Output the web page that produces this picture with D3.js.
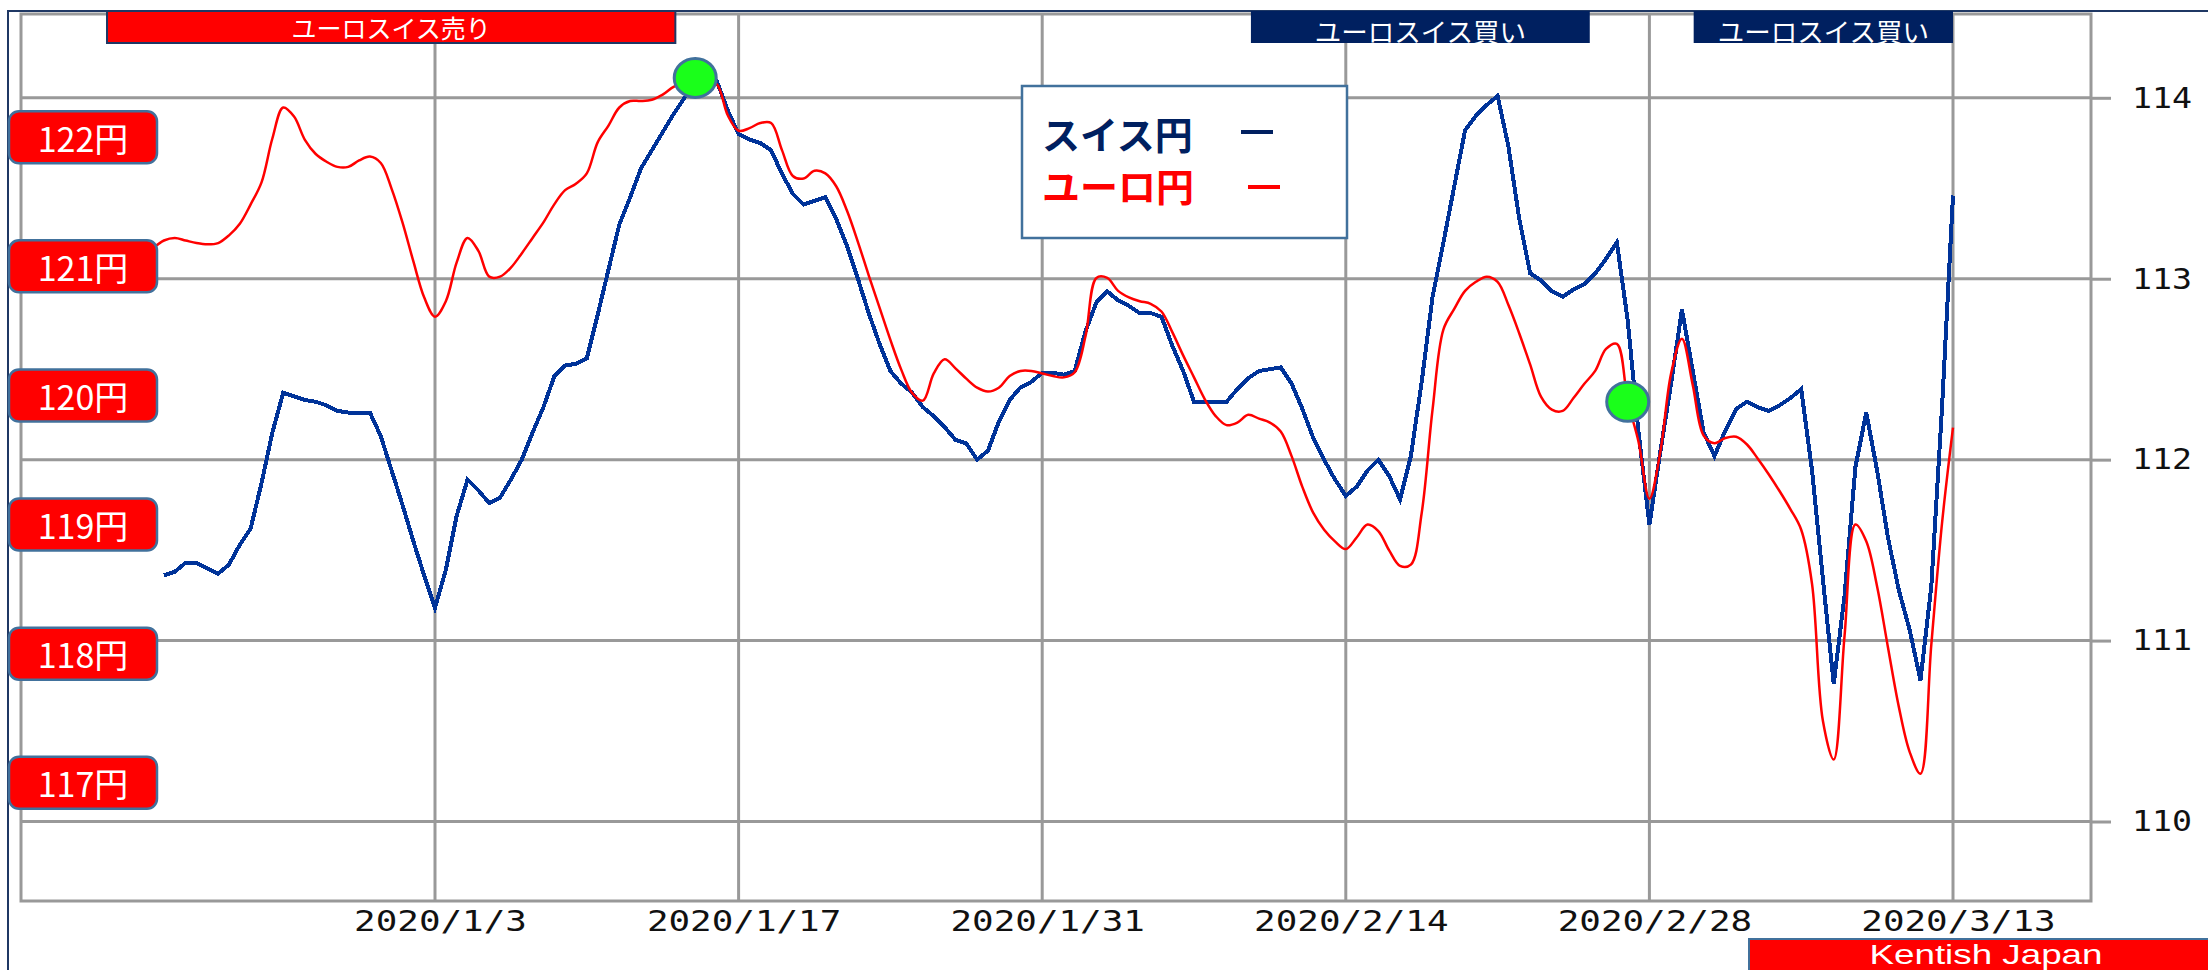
<!DOCTYPE html>
<html>
<head>
<meta charset="utf-8">
<script src="https://cdn.jsdelivr.net/npm/d3@7"></script>
<style>
body { margin: 0; background: #fff; }
</style>
</head>
<body>
<div class="container"></div>
<script>
const wd = 2208
const ht = 970

// chf/jpy (right axis) - one reading every 12 hours, first one 2019-12-21 12:00
const swissStart = "2019-12-21T12:00:00Z"
const swissRate = [
  111.36, 111.38, 111.43, 111.43, 111.40, 111.37, 111.42, 111.53, 111.62, 111.87,
  112.15, 112.37, 112.35, 112.33, 112.32, 112.30, 112.27, 112.26, 112.26, 112.26,
  112.13, 111.94, 111.75, 111.55, 111.36, 111.18, 111.39, 111.69, 111.89, 111.83,
  111.76, 111.79, 111.89, 112.00, 112.15, 112.29, 112.46, 112.52, 112.53, 112.56,
  112.80, 113.05, 113.30, 113.45, 113.61, 113.71, 113.81, 113.91, 114.00, 114.06,
  114.08, 114.09, 113.93, 113.80, 113.77, 113.75, 113.71, 113.58, 113.47, 113.41,
  113.43, 113.45, 113.33, 113.18, 113.00, 112.81, 112.64, 112.49, 112.42, 112.37,
  112.29, 112.24, 112.18, 112.11, 112.09, 112.00, 112.05, 112.21, 112.33, 112.40,
  112.43, 112.48, 112.48, 112.47, 112.49, 112.71, 112.87, 112.93, 112.88, 112.85,
  112.81, 112.81, 112.79, 112.63, 112.49, 112.32, 112.32, 112.32, 112.32, 112.39,
  112.45, 112.49, 112.50, 112.51, 112.42, 112.28, 112.12, 112.00, 111.89, 111.80,
  111.85, 111.94, 112.00, 111.91, 111.78, 112.02, 112.43, 112.90, 113.20, 113.51,
  113.82, 113.90, 113.96, 114.01, 113.73, 113.33, 113.03, 112.99, 112.93, 112.90,
  112.94, 112.97, 113.03, 113.11, 113.20, 112.77, 112.15, 111.64, 112.04, 112.42,
  112.83, 112.49, 112.15, 112.02, 112.16, 112.28, 112.32, 112.29, 112.27, 112.30,
  112.34, 112.39, 111.94, 111.34, 110.76, 111.25, 111.96, 112.26, 111.94, 111.57,
  111.28, 111.06, 110.78, 111.30, 112.30, 113.46
]

// eur/jpy (the red yen boxes on the left) - every 12 hours from 2019-12-21 00:00
const euroStart = "2019-12-21T00:00:00Z"
const euroRate = [
  121.14, 121.20, 121.22, 121.20, 121.18, 121.17, 121.18, 121.24, 121.33, 121.48,
  121.65, 121.99, 122.23, 122.16, 121.98, 121.87, 121.81, 121.77, 121.77, 121.82,
  121.85, 121.80, 121.60, 121.34, 121.04, 120.76, 120.61, 120.73, 121.03, 121.22,
  121.12, 120.92, 120.92, 120.99, 121.10, 121.22, 121.34, 121.48, 121.59, 121.64,
  121.72, 121.96, 122.09, 122.23, 122.28, 122.28, 122.29, 122.33, 122.39, 122.42,
  122.44, 122.44, 122.41, 122.17, 122.05, 122.07, 122.11, 122.11, 121.90, 121.70,
  121.68, 121.74, 121.72, 121.62, 121.43, 121.19, 120.93, 120.68, 120.43, 120.20,
  120.02, 119.96, 120.17, 120.28, 120.21, 120.13, 120.06, 120.03, 120.06, 120.15,
  120.19, 120.19, 120.17, 120.15, 120.14, 120.18, 120.46, 120.91, 120.91, 120.81,
  120.76, 120.73, 120.71, 120.65, 120.49, 120.31, 120.14, 119.97, 119.84, 119.77,
  119.79, 119.85, 119.82, 119.79, 119.72, 119.53, 119.29, 119.09, 118.96, 118.87,
  118.81, 118.90, 119.00, 118.95, 118.80, 118.68, 118.69, 119.09, 119.89, 120.51,
  120.67, 120.81, 120.88, 120.92, 120.88, 120.70, 120.48, 120.24, 119.99, 119.89,
  119.88, 119.98, 120.09, 120.19, 120.36, 120.40, 119.96, 119.64, 119.20, 119.56,
  120.17, 120.44, 120.08, 119.69, 119.63, 119.67, 119.68, 119.62, 119.51, 119.39,
  119.26, 119.12, 118.96, 118.54, 117.48, 117.18, 118.14, 119.00, 118.87, 118.52,
  118.05, 117.59, 117.24, 117.07, 118.07, 119.02, 119.75
]
const stepHours = 12

const dateTicks = ["2020-01-03", "2020-01-17", "2020-01-31", "2020-02-14", "2020-02-28", "2020-03-13"]
const rightTicks = [110, 111, 112, 113, 114]
const yenLabels = [122, 121, 120, 119, 118, 117]

// sell / buy calls along the top
const callText = ["ユーロスイス売り", "ユーロスイス買い", "ユーロスイス買い"]
const callType = ["sell", "buy", "buy"]
const callFrom = ["2019-12-18T21:00:00Z", "2020-02-09T15:00:00Z", "2020-03-01T01:00:00Z"]
const callTo = ["2020-01-14T02:00:00Z", "2020-02-25T06:00:00Z", "2020-03-13T00:00:00Z"]

// green dots sitting on the chf line
const markDates = ["2020-01-15T00:00:00Z", "2020-02-27T00:00:00Z"]
const markRate = [114.11, 112.32]

const legendText = ["スイス円", "ユーロ円"]
const legendColor = ["#002060", "#ff0000"]


// plot box
const pl = 21, pr = 2091, pt = 14, pb = 901
const gridCol = "#999999"
const jp = "'Noto Sans CJK JP', sans-serif"

const svgC = d3.select(".container")
  .append("svg")
  .attr("width", wd)
  .attr("height", ht)
  .style("display", "block")

const x = d3.scaleUtc()
  .domain([new Date("2020-01-03T00:00:00Z"), new Date("2020-03-13T00:00:00Z")])
  .range([435, 1953])

const yR = d3.scaleLinear().domain([110, 114]).range([821.5, 97.8])
const yL = d3.scaleLinear().domain([117, 122]).range([782.8, 137.2])

const toSeries = (start, arr) => arr.map((v, i) => ({
  date: new Date(+new Date(start) + i * stepHours * 3600e3),
  v: v
}))
const swiss = toSeries(swissStart, swissRate)
const euro = toSeries(euroStart, euroRate)

// outer frame (only top and left show)
svgC.append("path")
  .attr("d", `M8,${ht} L8,11 L${wd},11`)
  .attr("fill", "none")
  .attr("stroke", "#1f3864")
  .attr("stroke-width", 2)

// grid
svgC.append("g").selectAll("line")
  .data(dateTicks)
  .enter().append("line")
  .attr("x1", d => x(new Date(d + "T00:00:00Z")))
  .attr("x2", d => x(new Date(d + "T00:00:00Z")))
  .attr("y1", pt).attr("y2", pb)
  .attr("stroke", gridCol).attr("stroke-width", 3)

svgC.append("g").selectAll("line")
  .data(rightTicks)
  .enter().append("line")
  .attr("x1", pl).attr("x2", pr)
  .attr("y1", d => yR(d)).attr("y2", d => yR(d))
  .attr("stroke", gridCol).attr("stroke-width", 3)

svgC.append("rect")
  .attr("x", pl).attr("y", pt)
  .attr("width", pr - pl).attr("height", pb - pt)
  .attr("fill", "none")
  .attr("stroke", gridCol).attr("stroke-width", 3)

// right axis
const rAxis = svgC.append("g")
  .attr("transform", `translate(${pr},0)`)
  .call(d3.axisRight(yR).tickValues(rightTicks).tickSize(20).tickPadding(21).tickFormat(d3.format("d")))
rAxis.select(".domain").remove()
rAxis.selectAll("line").attr("stroke", gridCol).attr("stroke-width", 3)
rAxis.selectAll("text")
  .attr("font-family", "'DejaVu Sans Mono', monospace")
  .attr("font-size", 29)
  .attr("fill", "#111")
  .attr("textLength", d => String(d).length * 20)
  .attr("lengthAdjust", "spacingAndGlyphs")

// bottom axis
const fmt = d3.utcFormat("%Y/%-m/%-d")
const bAxis = svgC.append("g")
  .attr("transform", `translate(0,${pb})`)
  .call(d3.axisBottom(x)
    .tickValues(dateTicks.map(d => new Date(d + "T00:00:00Z")))
    .tickSize(0).tickPadding(9).tickFormat(fmt))
bAxis.select(".domain").remove()
bAxis.selectAll("text")
  .attr("font-family", "'DejaVu Sans Mono', monospace")
  .attr("font-size", 29)
  .attr("fill", "#111")
  .attr("dx", 5)
  .attr("textLength", d => fmt(d).length * 21.6)
  .attr("lengthAdjust", "spacingAndGlyphs")

// lines. blue is the jaggy one, red is smooth and sits on top
const blueLine = d3.line()
  .x(d => x(d.date))
  .y(d => yR(d.v))

svgC.append("path")
  .attr("d", blueLine(swiss))
  .attr("fill", "none")
  .attr("stroke", "#003399")
  .attr("stroke-width", 4)
  .attr("stroke-linejoin", "miter")
  .style("shape-rendering", "crispEdges")

const redLine = d3.line()
  .x(d => x(d.date))
  .y(d => yL(d.v))
  .curve(d3.curveCatmullRom.alpha(0.5))

svgC.append("path")
  .attr("d", redLine(euro))
  .attr("fill", "none")
  .attr("stroke", "#ff0000")
  .attr("stroke-width", 2.5)

// green markers
svgC.append("g").selectAll("ellipse")
  .data(markDates)
  .enter().append("ellipse")
  .attr("cx", d => x(new Date(d)))
  .attr("cy", (d, i) => yR(markRate[i]))
  .attr("rx", 21).attr("ry", 19.5)
  .attr("fill", "#1aff1a")
  .attr("stroke", "#41719c")
  .attr("stroke-width", 3)

// legend box
const lg = svgC.append("g")
lg.append("rect")
  .attr("x", 1022).attr("y", 86)
  .attr("width", 325).attr("height", 152)
  .attr("fill", "#fff")
  .attr("stroke", "#41719c").attr("stroke-width", 2.5)

legendText.forEach((t, i) => {
  lg.append("text")
    .attr("x", 1042).attr("y", 149 + i * 52)
    .attr("font-family", jp)
    .attr("font-weight", "bold")
    .attr("font-size", 38)
    .attr("fill", legendColor[i])
    .text(t)
  lg.append("line")
    .attr("x1", 1241 + i * 7).attr("x2", 1273 + i * 7)
    .attr("y1", 132 + i * 55).attr("y2", 132 + i * 55)
    .attr("stroke", legendColor[i])
    .attr("stroke-width", 4)
})

// the sell / buy banners
const calls = svgC.append("g").selectAll("g")
  .data(callText)
  .enter().append("g")

calls.append("rect")
  .attr("x", (d, i) => x(new Date(callFrom[i])))
  .attr("y", 11)
  .attr("width", (d, i) => x(new Date(callTo[i])) - x(new Date(callFrom[i])))
  .attr("height", 32)
  .attr("fill", (d, i) => callType[i] == "sell" ? "#ff0000" : "#002060")
  .attr("stroke", (d, i) => callType[i] == "sell" ? "#1f3864" : "none")
  .attr("stroke-width", 2)

calls.append("text")
  .attr("x", (d, i) => (x(new Date(callFrom[i])) + x(new Date(callTo[i]))) / 2)
  .attr("y", (d, i) => callType[i] == "sell" ? 27 : 30)
  .attr("dominant-baseline", "central")
  .attr("text-anchor", "middle")
  .attr("font-family", jp)
  .attr("font-size", (d, i) => callType[i] == "sell" ? 25 : 26.5)
  .attr("fill", "#fff")
  .text(d => d)

// yen boxes on the left
const yen = svgC.append("g").selectAll("g")
  .data(yenLabels)
  .enter().append("g")

yen.append("rect")
  .attr("x", 9).attr("y", d => yL(d) - 26)
  .attr("width", 148).attr("height", 52)
  .attr("rx", 10)
  .attr("fill", "#ff0000")
  .attr("stroke", "#41719c").attr("stroke-width", 2.5)

yen.append("text")
  .attr("x", 83).attr("y", d => yL(d))
  .attr("dominant-baseline", "central")
  .attr("text-anchor", "middle")
  .attr("font-family", jp)
  .attr("font-size", 34)
  .attr("fill", "#fff")
  .text(d => d + "円")

// credit, bottom right, right at the picture edge
svgC.append("rect")
  .attr("x", 1749).attr("y", 939)
  .attr("width", 470).attr("height", 40)
  .attr("fill", "#ff0000")
  .attr("stroke", "#41719c").attr("stroke-width", 2)

svgC.append("text")
  .attr("x", 1986).attr("y", 964)
  .attr("text-anchor", "middle")
  .attr("font-family", "'Liberation Sans', sans-serif")
  .attr("font-size", 27.5)
  .attr("fill", "#fff")
  .attr("textLength", 233)
  .attr("lengthAdjust", "spacingAndGlyphs")
  .text("Kentish Japan")
</script>
</body>
</html>
